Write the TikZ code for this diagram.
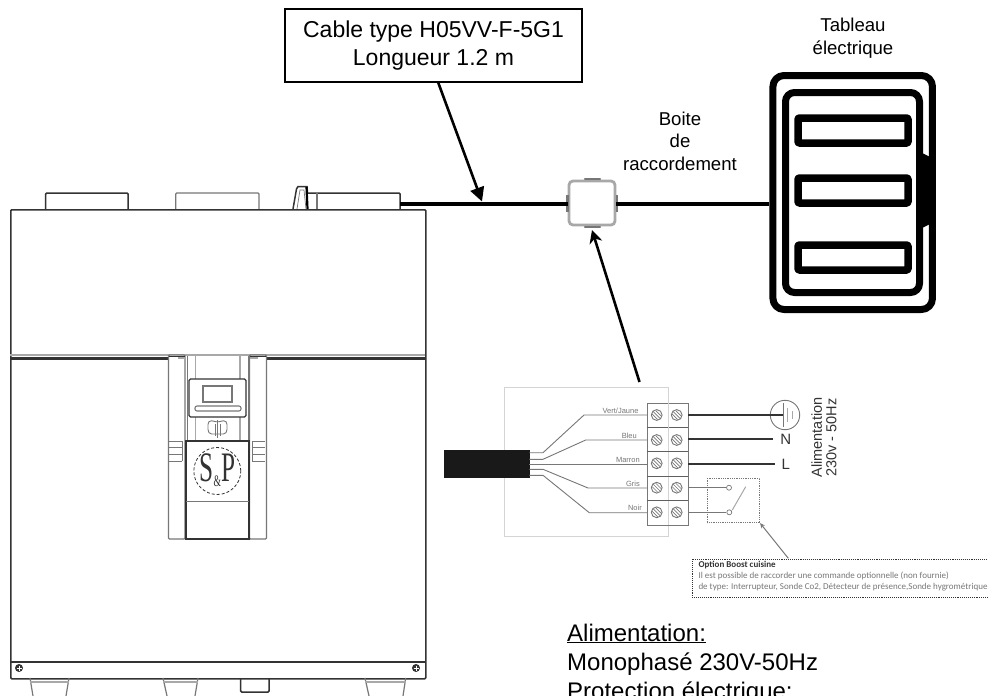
\documentclass[tikz,border=0pt]{standalone}
\usepackage{fontspec}
\setmainfont{Liberation Sans}
\newfontfamily\notefont{Carlito}
\newfontfamily\logofont{Liberation Serif}
\usetikzlibrary{arrows.meta}
\definecolor{ink}{HTML}{333333}
\definecolor{midgrey}{HTML}{777777}
\definecolor{softgrey}{HTML}{A8A8A8}
\definecolor{palegrey}{HTML}{D4D4D4}
\tikzset{
  unitline/.style={draw=ink,line width=1.5pt},
  unitthick/.style={draw=ink,line width=2pt},
  panelline/.style={draw=midgrey,line width=1.2pt},
  wire/.style={draw=midgrey,line width=.9pt},
  powerwire/.style={draw=ink,line width=1.3pt},
  frame/.style={draw=black,line cap=round,line join=round},
  callout/.style={draw=black,line width=1.7pt,fill=white,inner sep=0pt,minimum width=297pt,minimum height=73pt,align=center,font=\fontsize{23}{28}\selectfont},
  plainlabel/.style={inner sep=0pt,align=center,font=\fontsize{18.6}{22.5}\selectfont},
  wirelabel/.style={inner sep=0pt,anchor=base east,text=midgrey,font=\fontsize{7.5}{8}\selectfont},
  blackarrow/.style={draw=black,line width=2.6pt},
  screwhead/.style={draw=midgrey,line width=.9pt,fill=white},
  notetext/.style={inner sep=0pt,anchor=base west,font=\notefont\fontsize{9}{9}\selectfont},
  supplytext/.style={inner sep=0pt,anchor=base west,font=\fontsize{24}{29}\selectfont}
}
\newcommand{\termscrew}[2]{%
  \draw[screwhead] (#1,#2) circle (5.4);
  \draw[wire,line width=.7pt] (#1-3.6,#2-3.6) -- (#1+3.6,#2+3.6)
    (#1-.9,#2-4.4) -- (#1+4.4,#2+.9) (#1-4.4,#2-.9) -- (#1+.9,#2+4.4);
}
\begin{document}
\begin{tikzpicture}[x=1pt,y=-1pt]
\clip (0,0) rectangle (988,696);
\useasboundingbox (0,0) rectangle (988,696);
\fill[white] (0,0) rectangle (988,696);

% ---- unit
\draw[unitline,rounded corners=1pt] (45.7,209) |- (128,193) -- (128,209);
\draw[panelline,rounded corners=1pt] (175.7,209) |- (259,193) -- (259,209);
\draw[unitline,rounded corners=1pt] (308,193) -| (400,209);
\draw[panelline] (317,193) -- (317,209);
\draw[unitline] (293,209) -- (296.5,189) -- (298,186.5) -- (307,186.5) -- (307.5,193);
\draw[draw=black,line width=2.2pt] (306.5,187) -- (307.5,209);
\draw[panelline,line width=.7pt] (297,209) -- (300,190) -- (304,190) -- (306,209);
\node[draw=ink,line width=1.5pt,rounded corners=1pt,inner sep=0pt,minimum width=415pt,minimum height=469pt,anchor=north west] (unit) at (10,209) {};
\draw[unitthick] (10,662) -- (425,662);
\draw[softgrey,line width=1.2pt] (10,355) -- (425,355);
\draw[draw=ink,line width=3pt] (10,358.5) -- (168,358.5);
\draw[draw=ink,line width=3pt] (267,358.5) -- (425,358.5);
% bottom feet
\foreach \a/\b/\c/\d in {30/33/69/66,163/167/198/195,365/369/405.7/403}{
  \draw[panelline] (\a,678) -- (\b,696);
  \draw[panelline] (\c,678) -- (\d,696);
  \draw[softgrey,line width=1.2pt] (\a,682) -- (\c,682);
}
\draw[unitline,rounded corners=1pt] (240.7,678) |- (269,692) -- (269,678);
% screws
\foreach \x in {19,416}{
  \fill[ink] (\x,668) circle (4);
  \draw[white,line width=.4pt] (\x-2.5,668) -- (\x+2.5,668) (\x,665.5) -- (\x,670.5);
}
% ---- control column
\draw[panelline,rounded corners=1pt,fill=white] (168.5,355) rectangle (185,539);
\draw[panelline,rounded corners=1pt,fill=white] (249.5,355) rectangle (266.5,539);
\fill[white] (186,356) rectangle (249,441);
\draw[softgrey,line width=1.4pt] (195.5,356) -- (195.5,441);
\draw[softgrey,line width=1.4pt] (240,356) -- (240,441);
\draw[panelline,line width=.9pt] (187,356) -- (187,441);
\draw[panelline,line width=.9pt] (248,356) -- (248,441);
\draw[draw=ink,line width=.9pt] (169,356) -- (185,356) (250,356) -- (266,356);
\draw[softgrey,line width=1.6pt] (178,358) -- (185,358) (250,358) -- (258,358);
\draw[draw=ink,line width=1.4pt,rounded corners=1.5pt,fill=white] (189,379) rectangle (246,417);
\draw[panelline,line width=1.2pt] (203,386) rectangle (232,402);
\draw[panelline,line width=1.1pt,rounded corners=2pt] (195,406) rectangle (241,411);
% book icon
\draw[midgrey,line width=.9pt,rounded corners=1.5pt] (217.5,422) -- (210,420.5) -- (208,423) -- (208,431) -- (210,434) -- (217.5,434) -- (225,434) -- (227,431) -- (227,423) -- (225,420.5) -- cycle;
\draw[midgrey,line width=1pt] (217.5,420) -- (217.5,438);
\draw[midgrey,line width=.7pt] (215,424) -- (215,436) (220,424) -- (220,436);
% ribs
\foreach \y in {441,447,454,461}{
  \draw[panelline,line width=1pt] (169,\y) -- (182,\y);
  \draw[panelline,line width=1pt] (252,\y) -- (265,\y);
}
\draw[panelline,line width=1pt] (182,441) -- (182,461) (252,441) -- (252,461);
% lower plate
\draw[unitthick,fill=white] (186,441) rectangle (249,538.5);
\draw[draw=ink,line width=.7pt] (186,441) -- (249,441);
\draw[panelline,line width=.9pt] (186,501) -- (249,501);
\node[draw=ink,line width=.8pt,densely dashed,circle,inner sep=0pt,minimum size=47pt] (logo) at (217.3,471) {};
\node[inner sep=0pt,text=ink] (logotext) at (217.3,470) {\logofont\fontsize{42}{42}\selectfont\scalebox{.6}[1]{S\raisebox{-5pt}{\fontsize{16}{16}\selectfont\&}P}};

% ---- cable runs and junction box
\node[draw=softgrey,line width=2.8pt,rounded corners=4pt,fill=white,inner sep=0pt,minimum width=46pt,minimum height=44pt] (jb) at (592,203) {};
\draw[midgrey,line width=2.2pt,line cap=round] (585,178.8) -- (600,178.8);
\draw[midgrey,line width=2.2pt,line cap=round] (585,227.2) -- (600,227.2);
\draw[midgrey,line width=2.4pt] (567.6,195) -- (567.6,212);
\draw[midgrey,line width=2.4pt] (617,195) -- (617,212);

% panel
\node[frame,line width=7pt,rounded corners=11pt,inner sep=0pt,minimum width=159.5pt,minimum height=234pt] (panel) at (852.7,192.5) {};
\draw[frame,line width=7pt,rounded corners=9pt] (785.5,92.5) rectangle (919.5,292.5);
\foreach \y in {118,178,245}{
  \draw[frame,line width=7.5pt,rounded corners=1pt] (798,\y) rectangle (908,\y+25);
}
\fill[black] (922,153) -- (930,157) -- (930,224) -- (922,228) -- cycle;

\coordinate (cablestart) at (400,204);
\draw[draw=black,line width=4.6pt] (cablestart) -- (jb.west |- cablestart);
\draw[draw=black,line width=3.6pt] (jb.east |- cablestart) -- (panel.west |- cablestart);

% ---- callout
\node[callout] (cablebox) at (433.5,45.5) {Cable type H05VV-F-5G1\\Longueur 1.2 m};
\coordinate (cabletip) at (482,201.5);
\coordinate (cablefoot) at (438,82);
\draw[blackarrow,-{Triangle[length=14pt,width=14pt]}] (cablefoot) -- (cabletip);

\node[plainlabel] (boite) at (680,141) {Boite\\de\\raccordement};
\node[plainlabel] (tableau) at (853,38) {Tableau\\électrique};

% ---- wiring sketch
\draw[palegrey,line width=1pt] (504.3,387.3) rectangle (668.7,536.7);
\node[fill=black!90,inner sep=0pt,minimum width=85.3pt,minimum height=27.7pt,anchor=north west] (sheath) at (444,450) {};
\draw[wire] (529.3,452.7) -- (543,452.7) -- (584,415) -- (647.3,415);
\draw[wire] (529.3,459.3) -- (543,459.3) -- (585.7,440) -- (647.3,440);
\draw[wire] (529.3,464) -- (647.3,464);
\draw[wire] (529.3,469.3) -- (543,469.3) -- (588,488) -- (647.3,488);
\draw[wire] (529.3,475.3) -- (543,475.3) -- (589.3,512.7) -- (647.3,512.7);
\node[wirelabel] (lvj) at (638.7,413) {Vert/Jaune};
\node[wirelabel] (lbl) at (637,438) {Bleu};
\node[wirelabel] (lma) at (640,462) {Marron};
\node[wirelabel] (lgr) at (640,486) {Gris};
\node[wirelabel] (lno) at (642,510.5) {Noir};
% terminal block
\node[draw=midgrey,line width=.9pt,inner sep=0pt,minimum width=40.7pt,minimum height=121.4pt,anchor=north west] (block) at (647.3,403.3) {};
\foreach \y in {427.7,451.7,476,500}{\draw[draw=midgrey!80!black,line width=1pt] (647.3,\y) -- (688,\y);}
\foreach \y in {415,440,463.3,487.7,512.3}{\termscrew{656.7}{\y}\termscrew{676.7}{\y}}
\draw[palegrey,line width=.8pt] (668.7,403.3) -- (668.7,409) (668.7,421) -- (668.7,434);
% right wires
\node[draw=midgrey,line width=.9pt,circle,inner sep=0pt,minimum size=29.4pt] (earth) at (785,415) {};
\draw[powerwire] (688,415) -- (783,415);
\draw[midgrey,line width=1pt] (783,403) -- (783,427);
\draw[softgrey,line width=.9pt] (787.5,408) -- (787.5,422) (792,411) -- (792,419);
\node[inner sep=0pt,text=ink,font=\fontsize{15}{16}\selectfont] (nn) at (785.7,439.3) {N};
\node[inner sep=0pt,text=ink,font=\fontsize{15}{16}\selectfont] (ll) at (785.7,464.3) {L};
\coordinate (nend) at (772.7,439);
\coordinate (lend) at (775,464);
\draw[powerwire] (688,439) -- (nend);
\draw[powerwire] (688,464) -- (lend);
\node[inner sep=0pt,rotate=90,align=center,text=ink,font=\fontsize{14.5}{14.5}\selectfont] (alim) at (824,437.5) {Alimentation\\230v - 50Hz};
% switch
\node[draw=midgrey,line width=.8pt,densely dotted,inner sep=0pt,minimum width=52.6pt,minimum height=44.6pt,anchor=north west] (sw) at (706.7,477.7) {};
\node[draw=midgrey,line width=.7pt,circle,inner sep=0pt,minimum size=5pt] (c1) at (729,487.7) {};
\node[draw=midgrey,line width=.7pt,circle,inner sep=0pt,minimum size=5pt] (c2) at (729.3,512.3) {};
\draw[wire] (688,487.7) -- (c1.west);
\draw[wire] (688,512.3) -- (c2.west);
\coordinate (swa) at (732.3,510);
\coordinate (swb) at (745.7,486.7);
\draw[softgrey,line width=1pt] (swa) -- (swb);
% note
\node[draw=ink,line width=.9pt,densely dotted,inner sep=0pt,minimum width=296pt,minimum height=38.5pt,anchor=north west] (note) at (692,558.5) {};
\node[notetext,text=ink] (n1) at (698.3,567.7) {\bfseries Option Boost cuisine};
\node[notetext,text=midgrey] (n2) at (698.3,578.5) {Il est possible de raccorder une commande optionnelle (non fournie)};
\node[notetext,text=midgrey] (n3) at (698.3,589.7) {de type: Interrupteur, Sonde Co2, Détecteur de présence,Sonde hygrométrique};
\coordinate (notefoot) at (788.3,558.3);
\draw[midgrey,line width=1pt,-{Stealth[length=5pt,width=4.5pt]}] (notefoot) -- (sw.south east);

% ---- big arrow to junction box
\coordinate (wirefoot) at (639.5,382);
\coordinate (jbtip) at (592,230);
\draw[blackarrow,-{Stealth[length=13pt,width=13pt,inset=4pt]}] (wirefoot) -- (jbtip);

% ---- supply text
\node[supplytext] (s1) at (567,641) {\underline{Alimentation:}};
\node[supplytext] (s2) at (567,670) {Monophasé 230V-50Hz};
\node[supplytext] (s3) at (567,699.5) {Protection électrique:};
\end{tikzpicture}
\end{document}
